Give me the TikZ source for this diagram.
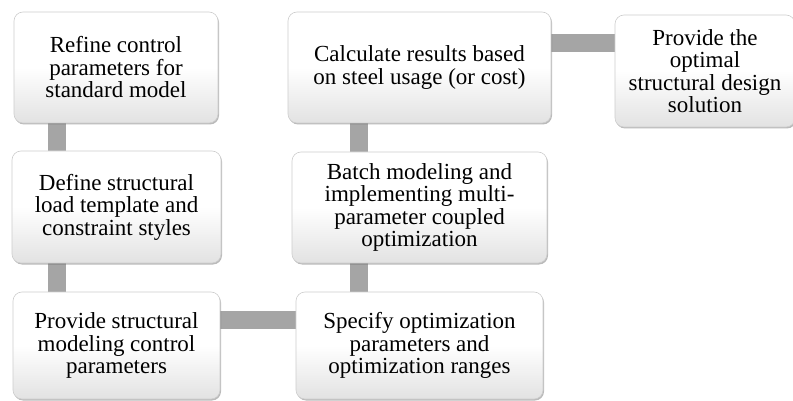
\documentclass[tikz,border=0pt]{standalone}
\usepackage{fontspec}
\setmainfont{Liberation Serif}
\usetikzlibrary{shadows,backgrounds}
\definecolor{conngray}{RGB}{165,165,165}
\definecolor{boxedge}{RGB}{205,205,205}
\definecolor{boxbottom}{RGB}{226,226,226}
\begin{document}
\begin{tikzpicture}[x=1pt,y=-1pt,
  stepbox/.style={draw=boxedge, line width=0.6pt, rounded corners=9pt,
    top color=white, bottom color=boxbottom, middle color=white,
    drop shadow={shadow xshift=1pt, shadow yshift=-1.5pt, opacity=0.45, fill=black!60},
    font=\fontsize{23}{22.5}\selectfont, align=center, inner sep=0pt},
  conn/.style={draw=conngray, line width=18pt}]
\useasboundingbox (0,0) rectangle (793,401);
\node[stepbox, minimum width=204pt, minimum height=111pt] (A) at (116,67.5)
  {Refine control\\parameters for\\standard model};
\node[stepbox, minimum width=209pt, minimum height=112pt] (B) at (116.5,207)
  {Define structural\\load template and\\constraint styles};
\node[stepbox, minimum width=207pt, minimum height=107pt] (C) at (116.5,345.5)
  {Provide structural\\modeling control\\parameters};
\node[stepbox, minimum width=247pt, minimum height=107pt] (D) at (419.5,345.5)
  {Specify optimization\\parameters and\\optimization ranges};
\node[stepbox, minimum width=255pt, minimum height=111pt] (E) at (419.5,207.5)
  {Batch modeling and\\implementing multi-\\parameter coupled\\optimization};
\node[stepbox, minimum width=263pt, minimum height=111pt] (F) at (419.5,67.5)
  {Calculate results based\\on steel usage (or cost)};
\node[stepbox, minimum width=180pt, minimum height=112pt] (G) at (705,71)
  {Provide the\\optimal\\structural design\\solution};
\begin{scope}[on background layer]
\draw[conn] ([xshift=43pt]A.south west) -- ([xshift=43pt]A.south west |- B.north);
\draw[conn] ([xshift=45pt]B.south west) -- ([xshift=45pt]B.south west |- C.north);
\draw[conn] ([yshift=-28pt]C.north east) -- ([yshift=-28pt]C.north east -| D.west);
\draw[conn] ([xshift=63pt]D.north west) -- ([xshift=63pt]D.north west |- E.south);
\draw[conn] ([xshift=67pt]E.north west) -- ([xshift=67pt]E.north west |- F.south);
\draw[conn] ([yshift=-31.5pt]F.north east) -- ([yshift=-31.5pt]F.north east -| G.west);
\end{scope}
\end{tikzpicture}
\end{document}
